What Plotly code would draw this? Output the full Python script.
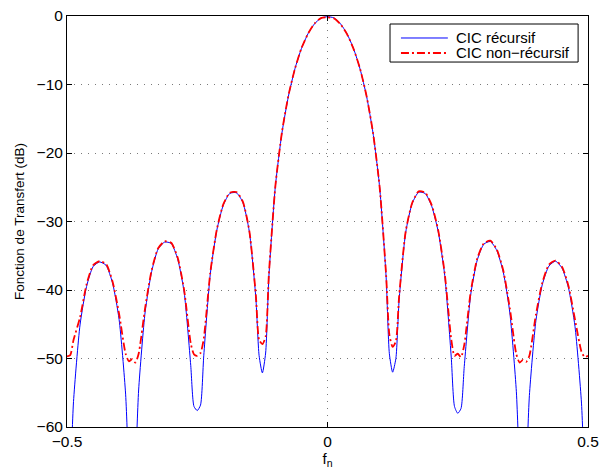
import plotly.graph_objects as go

# normalized frequency f_n
freq = [-0.5, -0.49375, -0.4875, -0.475, -0.4625, -0.45, -0.4375, -0.425, -0.4125, -0.4,
        -0.3875, -0.38125, -0.375, -0.36875, -0.3625, -0.35, -0.3375, -0.325, -0.3125, -0.3,
        -0.2875, -0.275, -0.2625, -0.25625, -0.25, -0.24375, -0.2375, -0.225, -0.2125, -0.2,
        -0.1875, -0.175, -0.1625, -0.15, -0.1375, -0.13125, -0.125, -0.11875, -0.1125, -0.1,
        -0.0875, -0.075, -0.0625, -0.05, -0.0375, -0.025, -0.0125, 0.0,
        0.0125, 0.025, 0.0375, 0.05, 0.0625, 0.075, 0.0875, 0.1, 0.1125, 0.11875,
        0.125, 0.13125, 0.1375, 0.15, 0.1625, 0.175, 0.1875, 0.2, 0.2125, 0.225,
        0.2375, 0.24375, 0.25, 0.25625, 0.2625, 0.275, 0.2875, 0.3, 0.3125, 0.325,
        0.3375, 0.35, 0.3625, 0.36875, 0.375, 0.38125, 0.3875, 0.4, 0.4125, 0.425,
        0.4375, 0.45, 0.4625, 0.475, 0.4875, 0.49375, 0.5]

# CIC recursive (dB)
recursif = [-75, -68.0, -56.3, -45.1, -39.5, -36.6, -35.9, -36.4, -39.0, -44.3,
            -55.2, -67.0, -75, -66.5, -54.6, -43.2, -37.3, -34.0, -33.0, -33.2,
            -35.5, -40.4, -51.0, -57.0, -57.6, -56.8, -49.6, -37.7, -31.3, -27.6,
            -25.9, -25.8, -27.2, -31.5, -41.2, -49.6, -52.1, -49.2, -38.0, -24.8,
            -17.1, -11.7, -7.7, -4.75, -2.6, -1.15, -0.3, -0.1,
            -0.28, -1.14, -2.61, -4.77, -7.73, -11.72, -17.15, -24.95, -38.09, -49.3,
            -52.0, -50.0, -41.4, -31.64, -27.36, -25.72, -25.91, -27.76, -31.48, -37.86,
            -49.79, -57.0, -58.0, -57.3, -51.16, -40.6, -35.61, -33.31, -32.92, -34.23,
            -37.44, -43.35, -54.85, -66.8, -75, -67.1, -55.42, -44.48, -39.14, -36.51,
            -35.79, -36.78, -39.68, -45.3, -56.51, -68.3, -75]

# CIC non-recursive (dB)
non_recursif = [-49.7, -49.5, -47.3, -44.0, -39.2, -36.4, -35.8, -36.2, -38.8, -43.5,
                -49.3, -50.4, -50.1, -50.6, -49.3, -42.6, -37.1, -33.9, -32.9, -33.1,
                -35.3, -40.1, -47.8, -49.4, -49.6, -49.2, -47.1, -37.5, -31.2, -27.5,
                -25.8, -25.7, -27.1, -31.4, -40.8, -47.3, -47.9, -46.8, -37.7, -24.8,
                -17.0, -11.6, -7.7, -4.7, -2.6, -1.1, -0.3, -0.2,
                -0.35, -1.2, -2.65, -4.8, -7.7, -11.7, -17.1, -24.9, -37.8, -46.5,
                -48.3, -47.5, -40.9, -31.5, -27.3, -25.6, -25.8, -27.6, -31.3, -37.6,
                -47.2, -49.6, -49.3, -49.8, -48.0, -40.2, -35.4, -33.2, -32.8, -34.1,
                -37.2, -42.7, -49.4, -50.6, -50.2, -50.5, -49.6, -43.6, -38.9, -36.3,
                -35.7, -36.6, -39.4, -44.3, -49.0, -49.8, -49.6]

series_names = ["CIC récursif", "CIC non\u2212récursif"]

x_ticks = [-0.5, 0, 0.5]
x_ticktext = ["\u22120.5", "0", "0.5"]
y_ticks = [0, -10, -20, -30, -40, -50, -60]
y_ticktext = ["0", "\u221210", "\u221220", "\u221230", "\u221240", "\u221250", "\u221260"]

font_family = "Liberation Sans, Arial, Helvetica, sans-serif"
blue_line = dict(color="#0000ff", width=1)
red_line = dict(color="#ff0000", width=1.8, dash="8px,3px,2px,3px")

fig = go.Figure()
fig.add_trace(go.Scatter(x=freq, y=recursif, mode="lines", name=series_names[0],
                         line=dict(**blue_line, shape="spline", smoothing=0.6)))
fig.add_trace(go.Scatter(x=freq, y=non_recursif, mode="lines", name=series_names[1],
                         line=dict(**red_line, shape="spline", smoothing=0.6)))

axis_common = dict(
    showline=True, linecolor="black", linewidth=1, mirror="allticks",
    ticks="inside", ticklen=5, tickcolor="black",
    showgrid=True, gridcolor="#7a7a7a", griddash="1px,6px", gridwidth=1,
    zeroline=False, automargin=False, ticklabeloverflow="allow",
    tickfont=dict(family=font_family, size=15.5, color="black"),
)

fig.update_xaxes(range=[-0.5, 0.5], tickvals=x_ticks, ticktext=x_ticktext,
                 title=dict(text="f<sub>n</sub>", standoff=2,
                            font=dict(family=font_family, size=15, color="black")),
                 **axis_common)
fig.update_yaxes(range=[-60, 0], tickvals=y_ticks, ticktext=y_ticktext,
                 title=dict(text="Fonction de Transfert (dB)", standoff=8,
                            font=dict(family=font_family, size=13.5, color="black")),
                 **axis_common)

# custom MATLAB-style legend (box, line samples, labels) in plot-area coordinates
leg_x0, leg_x1, leg_y0, leg_y1 = 0.620, 0.981, 0.888, 0.9805
sample_x0, sample_x1, text_x = 0.641, 0.731, 0.745
row_y = [0.9465, 0.910]
fig.add_shape(type="rect", xref="paper", yref="paper",
              x0=leg_x0, x1=leg_x1, y0=leg_y0, y1=leg_y1,
              line=dict(color="black", width=1), fillcolor="white", layer="above")
for name, style, yy in zip(series_names, [blue_line, red_line], row_y):
    fig.add_shape(type="line", xref="paper", yref="paper",
                  x0=sample_x0, x1=sample_x1, y0=yy, y1=yy, line=style, layer="above")
    fig.add_annotation(xref="paper", yref="paper", x=text_x, y=yy, text=name,
                       showarrow=False, xanchor="left", yanchor="middle",
                       height=13, borderpad=0, valign="middle",
                       font=dict(family=font_family, size=15, color="black"))

fig.update_layout(
    width=600, height=473,
    margin=dict(l=67, r=12, t=16, b=46),
    paper_bgcolor="white", plot_bgcolor="white",
    showlegend=False,
)

fig.write_html("out.html", config={"displayModeBar": False},
               post_script="document.body.style.margin='0';document.body.style.overflow='hidden';")
